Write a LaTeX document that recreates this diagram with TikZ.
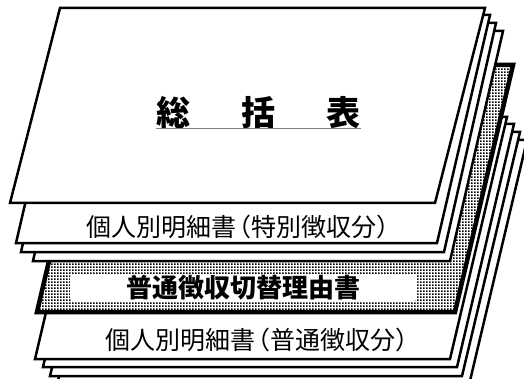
\documentclass[tikz,border=0pt]{standalone}
\usepackage{fontspec}
\newfontfamily\jp{Noto Sans CJK JP}
\usetikzlibrary{patterns}
\pgfdeclarepatternformonly{halftone}{\pgfpointorigin}{\pgfpoint{3pt}{3pt}}{\pgfpoint{3pt}{3pt}}{%
  \pgfpathrectangle{\pgfpoint{0pt}{0pt}}{\pgfpoint{2pt}{2pt}}\pgfusepath{fill}}
\newcommand\papersheet[6][]{%
  \pgfmathsetmacro\sheettlx{#6+#4-#5}%
  \draw[sheet,#1] (\sheettlx,#2) -- (#4,#2) -- (#5,#3) -- (#6,#3) -- cycle;}
\begin{document}
\begin{tikzpicture}[x=1pt,y=-1pt,
  sheet/.style={draw=black,fill=white,line width=2.5pt,line join=miter},
  reasonsheet/.style={line width=4.5pt,preaction={fill=white},pattern=halftone},
  sheettext/.style={inner sep=0pt,font=\jp\fontsize{25}{28}\selectfont},
  titletext/.style={inner sep=0pt,font=\jp\bfseries\fontsize{34}{40}\selectfont},
  reasonbox/.style={fill=white,rounded corners=3pt,minimum width=347pt,minimum height=27pt,
    inner sep=0pt,font=\jp\bfseries\fontsize{26}{30}\selectfont},
  ul/.style={draw=gray,line width=1pt}]
\useasboundingbox (0,0) rectangle (524,379);
\clip (0,0) rectangle (524,379);
% group of sheets: 個人別明細書(普通徴収分)
\papersheet{140}{385}{527}{469}{57}
\papersheet{132}{376}{520}{462}{50}
\papersheet{124}{367}{514}{457}{43}
\papersheet{117}{359}{507}{450}{35}
\node[sheettext] (futsu) at (263,340) {個人別明細書\hspace{-10pt}（普通徴収分）};
% 普通徴収切替理由書
\papersheet[reasonsheet]{65}{312}{513}{455}{37}
\node[reasonbox] (reason) at (243.5,287.5) {普通徴収切替理由書};
% group of sheets: 個人別明細書(特別徴収分)
\papersheet{31}{261}{503}{450}{33}
\papersheet{23}{252}{496}{444}{21}
\papersheet{15}{243}{490}{437}{16}
\node[sheettext] (tokubetsu) at (243.5,227) {個人別明細書\hspace{-10pt}（特別徴収分）};
% 総括表
\papersheet{8}{203}{485}{435}{10}
\node[titletext] (title) at (258.5,112.5) {総\hspace{51pt}括\hspace{51pt}表};
\draw[ul] (title.south west) -- (title.south east);
\end{tikzpicture}
\end{document}
